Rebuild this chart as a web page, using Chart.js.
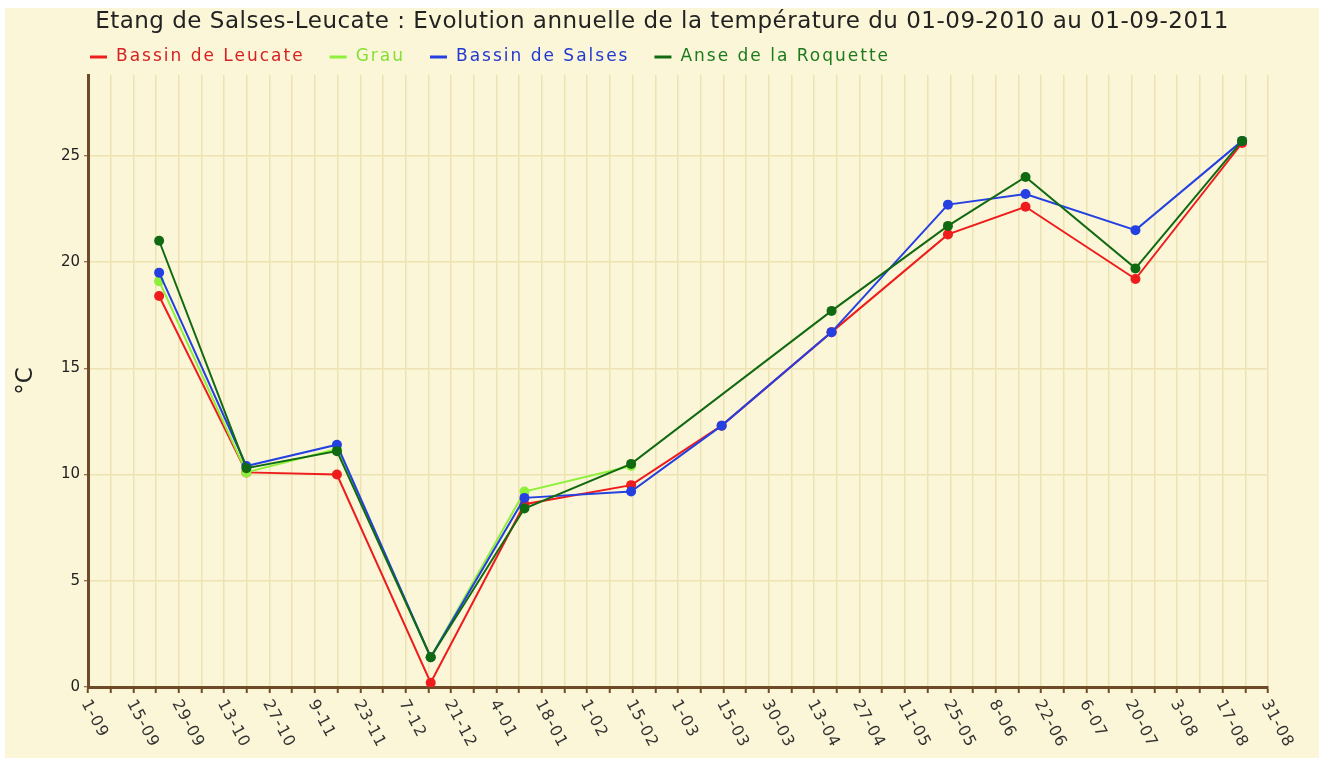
<!DOCTYPE html>
<html>
<head>
<meta charset="utf-8">
<script src="https://cdn.jsdelivr.net/npm/chart.js@4"></script>
<style>
  body { margin: 0; background: #ffffff; }
  #wrap { width: 1324px; height: 764px; }
</style>
</head>
<body>
<div id="wrap"><canvas id="myChartTemp" width="1324" height="764"></canvas></div>
<script>
// sampling dates and measured temperatures (°C)
var sampleDates = ['2010-09-23', '2010-10-20', '2010-11-17', '2010-12-16', '2011-01-14', '2011-02-16',
                   '2011-03-16', '2011-04-19', '2011-05-25', '2011-06-18', '2011-07-22', '2011-08-24'];
var leucate  = [18.4, 10.1, 10.0, 0.2, 8.6, 9.5, 12.3, 16.7, 21.3, 22.6, 19.2, 25.6];
var grau     = [19.1, 10.1, 11.2, 1.4, 9.2, 10.4, null, null, null, null, null, null];
var salses   = [19.5, 10.4, 11.4, 1.4, 8.9, 9.2, 12.3, 16.7, 22.7, 23.2, 21.5, 25.7];
var roquette = [21.0, 10.3, 11.1, 1.4, 8.4, 10.5, null, 17.7, 21.7, 24.0, 19.7, 25.7];

var seriesNames = ['Bassin de Leucate', 'Grau', 'Bassin de Salses', 'Anse de la Roquette'];
var xTickLabels = ['1-09', '15-09', '29-09', '13-10', '27-10', '9-11', '23-11', '7-12', '21-12',
                   '4-01', '18-01', '1-02', '15-02', '1-03', '15-03', '30-03', '13-04', '27-04',
                   '11-05', '25-05', '8-06', '22-06', '6-07', '20-07', '3-08', '17-08', '31-08'];
var yTicks = [0, 5, 10, 15, 20, 25];
var chartTitle = 'Etang de Salses-Leucate : Evolution annuelle de la température du 01-09-2010 au 01-09-2011';

var startDay = Date.parse('2010-09-01');
var nbDays = 365;
var nbGrid = (xTickLabels.length - 1) * 2;

function toPoints(values){
    var pts = [];
    for (var i = 0; i < sampleDates.length; i++) {
        pts.push({x: (Date.parse(sampleDates[i]) - startDay) / 86400000, y: values[i]});
    }
    return pts;
}

var brown = '#6e4a26';
var gridCol = '#eee1b2';
var lineColors = ['#ee1c1c', '#8ef03a', '#2440e0', '#116a11'];
var textColors = ['#d62222', '#84e035', '#2238d0', '#1c7a1c'];
var fontFam = '"DejaVu Sans", Verdana, sans-serif';

// cream background, title, legend and rotated date labels
var decoPlugin = {
    id: 'deco',
    beforeDraw: function(chart){
        var ctx = chart.ctx;
        ctx.save();
        ctx.fillStyle = '#fbf6d8';
        ctx.fillRect(5, 8, 1314, 750);

        ctx.fillStyle = '#222222';
        ctx.font = '23px ' + fontFam;
        if ('letterSpacing' in ctx) ctx.letterSpacing = '0.5px';
        ctx.textAlign = 'center';
        ctx.textBaseline = 'middle';
        ctx.fillText(chartTitle, 662, 22);

        // legend
        ctx.font = '17px ' + fontFam;
        if ('letterSpacing' in ctx) ctx.letterSpacing = '2px';
        ctx.textAlign = 'left';
        var lx = 90;
        for (var i = 0; i < seriesNames.length; i++) {
            ctx.strokeStyle = lineColors[i];
            ctx.lineWidth = 3;
            ctx.beginPath();
            ctx.moveTo(lx, 57);
            ctx.lineTo(lx + 17, 57);
            ctx.stroke();
            ctx.fillStyle = textColors[i];
            ctx.fillText(seriesNames[i], lx + 26, 57);
            lx += 26 + ctx.measureText(seriesNames[i]).width + 25;
        }
        ctx.restore();
    },
    afterDraw: function(chart){
        var ctx = chart.ctx;
        var xs = chart.scales.x;
        ctx.save();
        ctx.font = '16px ' + fontFam;
        if ('letterSpacing' in ctx) ctx.letterSpacing = '1px';
        ctx.fillStyle = '#333333';
        ctx.textAlign = 'left';
        ctx.textBaseline = 'middle';
        for (var i = 0; i < xTickLabels.length; i++) {
            var px = xs.getPixelForValue(i * 2 * nbDays / nbGrid);
            ctx.save();
            ctx.translate(px - 3, chart.chartArea.bottom + 14);
            ctx.rotate(62 * Math.PI / 180);
            ctx.fillText(xTickLabels[i], 0, 0);
            ctx.restore();
        }
        ctx.restore();
    }
};

function makeSet(i, values, order){
    return {
        label: seriesNames[i],
        data: toPoints(values),
        borderColor: lineColors[i],
        backgroundColor: lineColors[i],
        borderWidth: 2,
        pointRadius: 5,
        pointBorderWidth: 0,
        pointHoverRadius: 5,
        spanGaps: true,
        order: order
    };
}

var ctxTemp = document.getElementById('myChartTemp').getContext('2d');
var myChartTemp = new Chart(ctxTemp, {
    type: 'line',
    data: {
        datasets: [
            makeSet(0, leucate, 4),
            makeSet(1, grau, 3),
            makeSet(2, salses, 2),
            makeSet(3, roquette, 1)
        ]
    },
    options: {
        responsive: false,
        animation: false,
        layout: { padding: { top: 75, left: 0, right: 56, bottom: 0 } },
        plugins: {
            title: { display: false },
            legend: { display: false },
            tooltip: { enabled: false }
        },
        scales: {
            x: {
                type: 'linear',
                min: 0,
                max: nbDays,
                afterBuildTicks: function(scale){
                    var t = [];
                    for (var i = 0; i <= nbGrid; i++) t.push({value: i * nbDays / nbGrid});
                    scale.ticks = t;
                },
                afterFit: function(scale){ scale.height = 77; },
                grid: { color: gridCol, lineWidth: 1.5, tickColor: brown, tickLength: 6, tickWidth: 2 },
                border: { color: brown, width: 3 },
                ticks: { display: false }
            },
            y: {
                min: 0,
                max: 28.8,
                afterBuildTicks: function(scale){
                    scale.ticks = yTicks.map(function(v){ return {value: v}; });
                },
                afterFit: function(scale){ scale.width = 88; },
                grid: { color: gridCol, lineWidth: 1.5, tickColor: brown, tickLength: 4, tickWidth: 1 },
                border: { color: brown, width: 3 },
                ticks: {
                    color: '#222222',
                    padding: 4,
                    font: { family: fontFam, size: 15 }
                },
                title: {
                    display: true,
                    text: '°C',
                    color: '#222222',
                    padding: { top: 12, bottom: 0 },
                    font: { family: fontFam, size: 23 }
                }
            }
        }
    },
    plugins: [decoPlugin]
});
</script>
</body>
</html>
